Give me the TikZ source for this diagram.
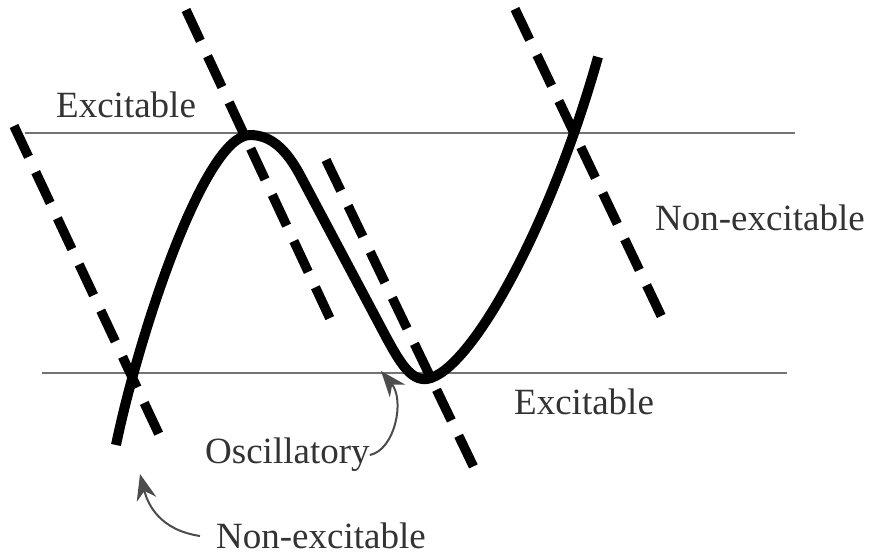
\documentclass[tikz,border=0pt]{standalone}
\usepackage{fontspec}
\setmainfont{Liberation Serif}
\usetikzlibrary{arrows.meta}
\begin{document}
\begin{tikzpicture}[x=1pt,y=-1pt,
  lbl/.style={font=\fontsize{37}{40}\selectfont, text=black!80, inner sep=0pt},
  nullc/.style={draw=black!55, line width=2pt},
  dline/.style={line width=9.5pt, dash pattern=on 34pt off 17pt},
  curve/.style={line width=10pt, line join=round, line cap=butt},
  pointer/.style={draw=black!70, line width=2pt, -{Stealth[length=26pt,width=20pt]}}]
\useasboundingbox (0,0) rectangle (875,559);
% horizontal lines
\coordinate (t1) at (25,133); \coordinate (t2) at (795,133);
\coordinate (b1) at (42,373); \coordinate (b2) at (787,373);
\draw[nullc] (t1) -- (t2);
\draw[nullc] (b1) -- (b2);
% dashed lines
\coordinate (d1a) at (14,126); \coordinate (d1b) at (164,445);
\coordinate (d2a) at (186,10); \coordinate (d2b) at (333,325);
\coordinate (d3a) at (326,160); \coordinate (d3b) at (478,476);
\coordinate (d4a) at (515,9); \coordinate (d4b) at (666,326);
\draw[dline] (d1a) -- (d1b);
\draw[dline] (d2a) -- (d2b);
\draw[dline] (d3a) -- (d3b);
\draw[dline] (d4a) -- (d4b);
% cubic nullcline
\coordinate (c0) at (116,445);
\coordinate (peak) at (250,135);
\coordinate (c1) at (300,175);
\coordinate (c2) at (385,335);
\coordinate (vmin) at (427,379);
\coordinate (c3) at (598,57);
\draw[curve] (c0) .. controls (140,330) and (205,135) .. (peak)
  .. controls (272,135) and (287,151) .. (c1)
  -- (c2)
  .. controls (400,363) and (411,381) .. (vmin)
  .. controls (470,372) and (550,228) .. (c3);
% labels
\node[lbl, anchor=west] (ex1) at (56,105) {Excitable};
\node[lbl, anchor=west] (ne1) at (655,218) {Non-excitable};
\node[lbl, anchor=west] (ex2) at (514,402) {Excitable};
\node[lbl, anchor=west] (osc) at (205,455) {Oscillatory};
\node[lbl, anchor=west] (ne2) at (216,536) {Non-excitable};
% pointers
\coordinate (oscTip) at (381,371);
\coordinate (neTip) at (140,474);
\draw[pointer] (osc.east) .. controls (395,450) and (405,400) .. (oscTip);
\draw[pointer] ([xshift=-16pt]ne2.west) .. controls (160,530) and (148,505) .. (neTip);
\end{tikzpicture}
\end{document}
